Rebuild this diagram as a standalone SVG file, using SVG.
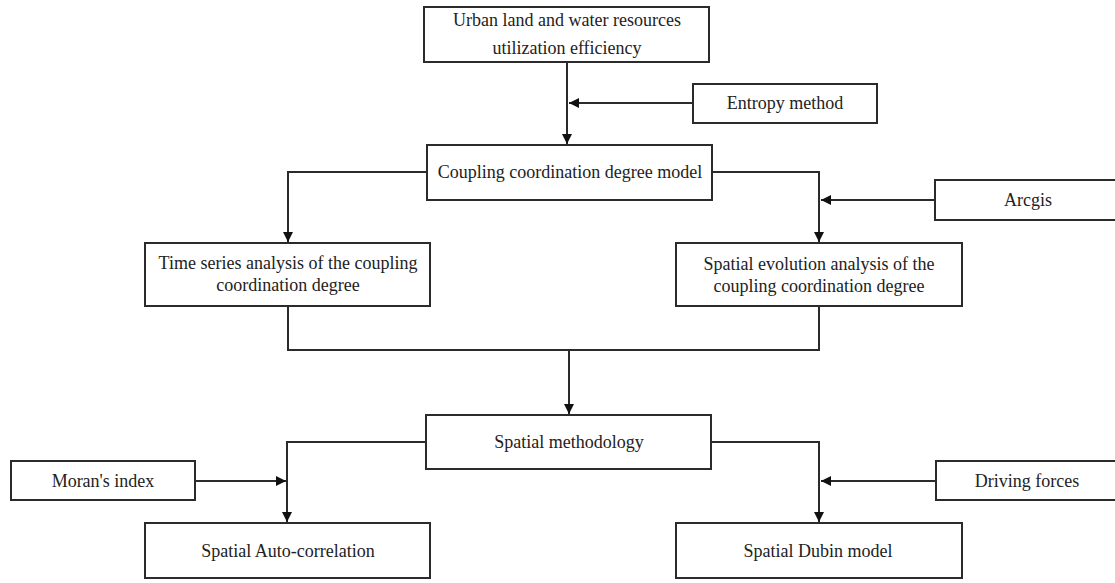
<svg xmlns="http://www.w3.org/2000/svg" width="1115" height="583" viewBox="0 0 1115 583">
<style>
.box{fill:#fff;stroke:#2b2b2b;stroke-width:2}
.t{font-family:"Liberation Serif","Times New Roman",serif;font-size:18px;fill:#222;text-anchor:middle}
.c{fill:none;stroke:#2b2b2b;stroke-width:2}
</style>
<defs>
<marker id="ah" viewBox="0 0 10 10" refX="10" refY="5" markerWidth="5" markerHeight="5" orient="auto" markerUnits="strokeWidth">
<path d="M0,0 L10,5 L0,10 z" fill="#111"/>
</marker>
</defs>
<rect width="1115" height="583" fill="#fff"/>
<g id="connectors">
<path class="c" d="M567,62 V144" marker-end="url(#ah)"/>
<path class="c" d="M693,103 H569" marker-end="url(#ah)"/>
<path class="c" d="M427,172 H288 V242" marker-end="url(#ah)"/>
<path class="c" d="M712,172 H819 V242" marker-end="url(#ah)"/>
<path class="c" d="M935,200 H821" marker-end="url(#ah)"/>
<path class="c" d="M288,306 V350 H819 V306"/>
<path class="c" d="M569,350 V414" marker-end="url(#ah)"/>
<path class="c" d="M426,442 H287 V522" marker-end="url(#ah)"/>
<path class="c" d="M195,481 H286" marker-end="url(#ah)"/>
<path class="c" d="M711,442 H819 V522" marker-end="url(#ah)"/>
<path class="c" d="M936,481 H821" marker-end="url(#ah)"/>
</g>
<g id="n-urban"><rect class="box" x="424" y="7" width="285" height="55"/><text class="t" x="567" y="26">Urban land and water resources</text><text class="t" x="567" y="54">utilization efficiency</text></g>
<g id="n-entropy"><rect class="box" x="693" y="84" width="184" height="39"/><text class="t" x="785" y="109">Entropy method</text></g>
<g id="n-coupling"><rect class="box" x="427" y="145" width="285" height="55"/><text class="t" x="570" y="178">Coupling coordination degree model</text></g>
<g id="n-arcgis"><rect class="box" x="935" y="180" width="185" height="40"/><text class="t" x="1028" y="206">Arcgis</text></g>
<g id="n-time"><rect class="box" x="145" y="243" width="285" height="63"/><text class="t" x="288" y="269">Time series analysis of the coupling</text><text class="t" x="288" y="291">coordination degree</text></g>
<g id="n-spatialevo"><rect class="box" x="676" y="243" width="286" height="63"/><text class="t" x="819" y="270">Spatial evolution analysis of the</text><text class="t" x="819" y="292">coupling coordination degree</text></g>
<g id="n-method"><rect class="box" x="426" y="415" width="285" height="54"/><text class="t" x="569" y="448">Spatial methodology</text></g>
<g id="n-moran"><rect class="box" x="11" y="461" width="184" height="39"/><text class="t" x="103" y="487">Moran's index</text></g>
<g id="n-driving"><rect class="box" x="936" y="461" width="184" height="39"/><text class="t" x="1027" y="487">Driving forces</text></g>
<g id="n-auto"><rect class="box" x="145" y="523" width="285" height="55"/><text class="t" x="288" y="557">Spatial Auto-correlation</text></g>
<g id="n-dubin"><rect class="box" x="676" y="523" width="286" height="55"/><text class="t" x="818" y="557">Spatial Dubin model</text></g>
</svg>
